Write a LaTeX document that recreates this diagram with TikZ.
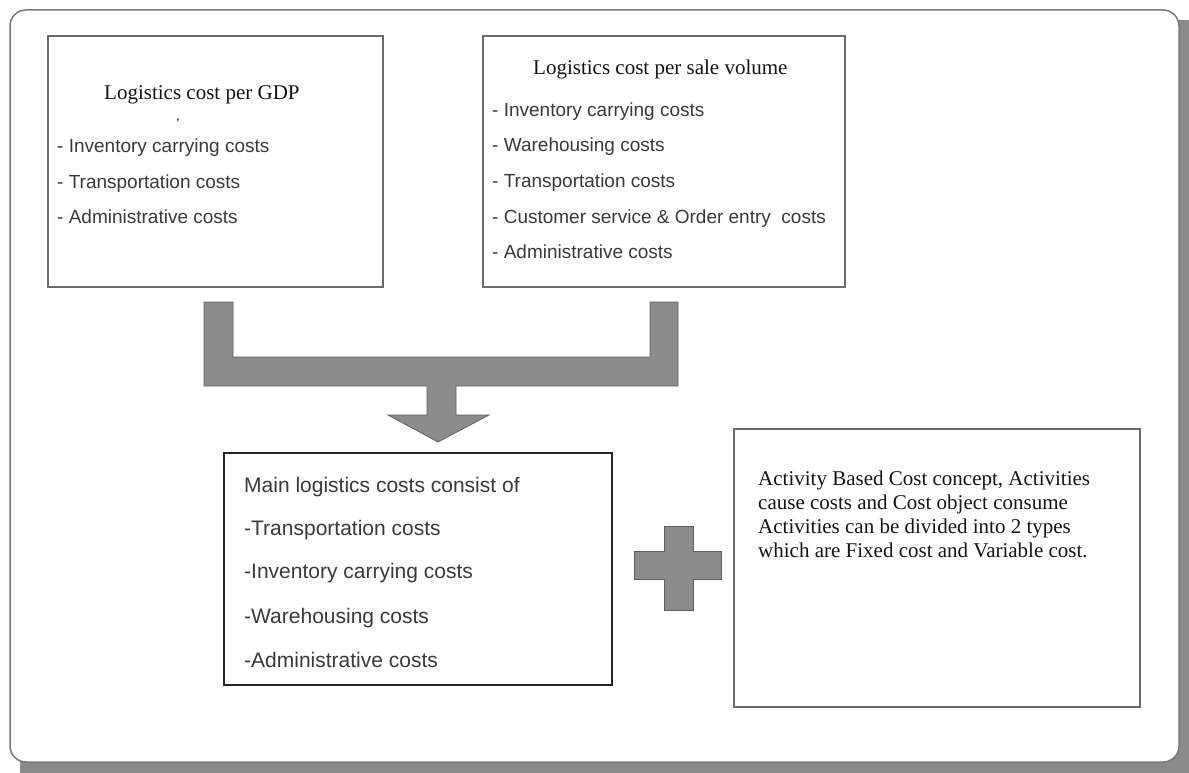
\documentclass[tikz,border=0pt]{standalone}
\usepackage{fontspec}
\setmainfont{Liberation Serif}
\setsansfont{Liberation Sans}
\definecolor{shadowgray}{HTML}{8A8A8A}
\definecolor{framegray}{HTML}{7A7A7A}
\definecolor{boxgray}{HTML}{6A6A6A}
\definecolor{arrowfill}{HTML}{8C8C8C}
\definecolor{arrowline}{HTML}{606060}
\definecolor{sanstext}{HTML}{3A3A3A}
\definecolor{seriftext}{HTML}{151515}
\begin{document}
\begin{tikzpicture}[x=1pt,y=-1pt,
  box/.style={draw=boxgray, line width=1.1pt, fill=white, anchor=north west, inner sep=0pt, outer sep=0pt},
  mainbox/.style={draw=black!85, line width=1.6pt, fill=white, anchor=north west, inner sep=0pt, outer sep=0pt},
  title/.style={anchor=base west, inner sep=0pt, font=\fontsize{21}{24}\selectfont\rmfamily, text=seriftext},
  item/.style={anchor=base west, inner sep=0pt, font=\fontsize{19}{22}\selectfont\sffamily, text=sanstext},
  bigitem/.style={anchor=base west, inner sep=0pt, font=\fontsize{21}{24}\selectfont\sffamily, text=sanstext},
  para/.style={anchor=base west, inner sep=0pt, align=left, font=\fontsize{21}{24}\selectfont\rmfamily, text=seriftext},
  blockshape/.style={fill=arrowfill, draw=arrowline, line width=0.8pt, line join=miter}]
\useasboundingbox (0,0) rectangle (1189,773);
% shadow and frame
\fill[shadowgray] (20,20) rectangle (1189,773);
\draw[framegray, line width=1.5pt, fill=white, rounded corners=16pt] (10,10) rectangle (1179,762);

% box 1
\node[box, minimum width=335pt, minimum height=251pt] (b1) at (48,36) {};
\node[title] (t1) at (104,100) {Logistics cost per GDP};
\node[anchor=base, inner sep=0pt, font=\fontsize{11}{11}\selectfont\bfseries, text=sanstext] (mark) at (178,121) {,};
\node[item] (b1i1) at (57,153) {- Inventory carrying costs};
\node[item] (b1i2) at (57,188) {- Transportation costs};
\node[item] (b1i3) at (57,223) {- Administrative costs};

% box 2
\node[box, minimum width=362pt, minimum height=251pt] (b2) at (483,36) {};
\node[title] (t2) at (533,75) {Logistics cost per sale volume};
\node[item] (b2i1) at (492,117) {- Inventory carrying costs};
\node[item] (b2i2) at (492,152) {- Warehousing costs};
\node[item] (b2i3) at (492,187) {- Transportation costs};
\node[item] (b2i4) at (492,223) {- Customer service \& Order entry\ \ costs};
\node[item] (b2i5) at (492,258) {- Administrative costs};

% merging block arrow
\draw[blockshape] (204,302) -- (233,302) -- (233,357) -- (650,357) -- (650,302)
  -- (678,302) -- (678,386) -- (456,386) -- (456,415) -- (489,415) -- (438,442)
  -- (388,415) -- (427,415) -- (427,386) -- (204,386) -- cycle;

% box 3
\node[mainbox, minimum width=388pt, minimum height=232pt] (b3) at (224,453) {};
\node[bigitem] (b3t) at (244,492) {Main logistics costs consist of};
\node[bigitem] (b3i1) at (244,535) {-Transportation costs};
\node[bigitem] (b3i2) at (244,578) {-Inventory carrying costs};
\node[bigitem] (b3i3) at (244,623) {-Warehousing costs};
\node[bigitem] (b3i4) at (244,667) {-Administrative costs};

% plus sign
\draw[blockshape] (664,526) -- (693,526) -- (693,551) -- (721,551) -- (721,579)
  -- (693,579) -- (693,610) -- (664,610) -- (664,579) -- (634,579) -- (634,551)
  -- (664,551) -- cycle;

% box 4
\node[box, minimum width=406pt, minimum height=278pt] (b4) at (734,429) {};
\node[para] (b4t) at (758,557) {Activity Based Cost concept, Activities\\
cause costs and Cost object consume\\
Activities can be divided into 2 types\\
which are Fixed cost and Variable cost.};
\end{tikzpicture}
\end{document}
